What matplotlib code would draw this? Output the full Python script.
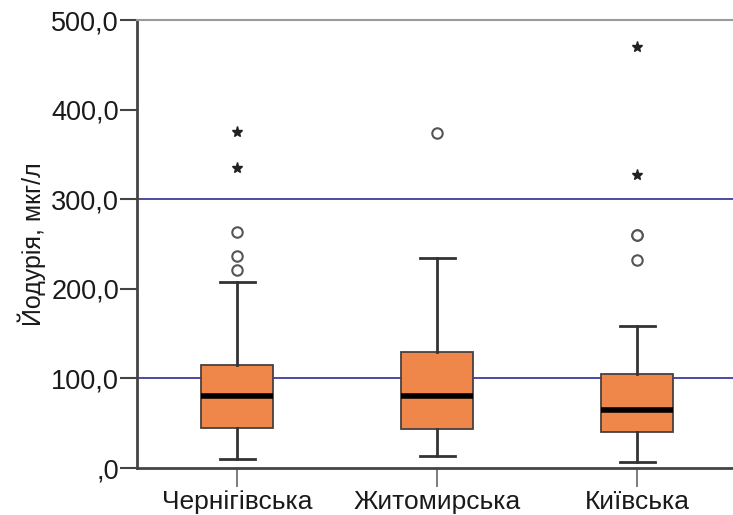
import matplotlib
matplotlib.use("Agg")
import matplotlib.pyplot as plt

plt.rcParams['font.family'] = ['Liberation Sans', 'DejaVu Sans']

categories = ["Чернігівська", "Житомирська", "Київська"]
whisker_low = [10, 13, 7]
q1 = [45, 43.5, 40.5]
median = [80.5, 80.5, 65]
q3 = [115, 129, 105]
whisker_high = [208, 234, 159]
outliers_circle = [[221, 237, 263], [374], [232, 260, 260]]
outliers_star = [[335, 375], [], [327, 470]]
ref_lines = [100, 300]
yticks = [0, 100, 200, 300, 400, 500]
ytick_labels = [",0", "100,0", "200,0", "300,0", "400,0", "500,0"]

fig = plt.figure(figsize=(7.33, 5.15), dpi=100)
ax = fig.add_axes([137/733, 47/515, 600/733, 448/515])

stats = []
for i, c in enumerate(categories):
    stats.append(dict(label=c, whislo=whisker_low[i], q1=q1[i], med=median[i],
                      q3=q3[i], whishi=whisker_high[i], fliers=[]))

for v in ref_lines:
    ax.axhline(v, color="#4b4ba8", lw=1.4, zorder=1)

ax.bxp(stats, positions=range(len(categories)), widths=0.36, patch_artist=True,
       showfliers=False,
       boxprops=dict(facecolor="#f0874a", edgecolor="#4a4040", lw=1.3),
       medianprops=dict(color="black", lw=4, solid_capstyle="butt"),
       whiskerprops=dict(color="#333333", lw=2),
       capprops=dict(color="#333333", lw=2),
       capwidths=0.175, zorder=3)

for i in range(len(categories)):
    if outliers_circle[i]:
        ax.plot([i]*len(outliers_circle[i]), outliers_circle[i], 'o', ms=7.5,
                mfc="white", mec="#555555", mew=1.5, zorder=4)
    if outliers_star[i]:
        ax.plot([i]*len(outliers_star[i]), outliers_star[i], '*', ms=8,
                color="#222222", zorder=4)

ax.set_xlim(-0.5, 2.5)
ax.set_ylim(0, 500)
ax.set_yticks(yticks)
ax.set_yticklabels(ytick_labels, fontsize=19.5, color="#1a1a1a")
ax.set_xticks(range(len(categories)))
ax.set_xticklabels(categories, fontsize=19, color="#1a1a1a")
ax.tick_params(axis='y', length=12, width=1.5, color="#444444", pad=1)
ax.tick_params(axis='x', length=14, width=1.2, color="#666666", pad=2)
ax.set_ylabel("Йодурія, мкг/л", fontsize=18, labelpad=4, color="#1a1a1a")

ax.spines['left'].set_color("#444444")
ax.spines['left'].set_linewidth(2)
ax.spines['bottom'].set_color("#444444")
ax.spines['bottom'].set_linewidth(2)
ax.spines['top'].set_color("#999999")
ax.spines['top'].set_linewidth(1.5)
ax.spines['right'].set_visible(False)

fig.savefig("out.png", dpi=100)
